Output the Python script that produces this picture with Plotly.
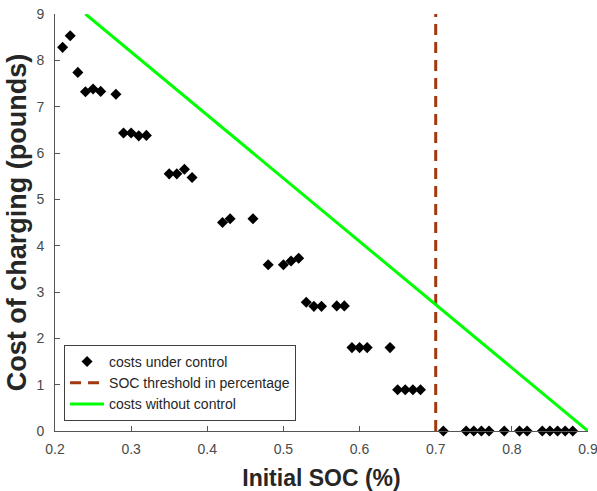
import plotly.graph_objects as go

soc_control = [0.21, 0.22, 0.23, 0.24, 0.25, 0.26, 0.28, 0.29, 0.30, 0.31, 0.32,
               0.35, 0.36, 0.37, 0.38, 0.42, 0.43, 0.46, 0.48, 0.50, 0.51, 0.52,
               0.53, 0.54, 0.55, 0.57, 0.58, 0.59, 0.60, 0.61, 0.64, 0.65, 0.66,
               0.67, 0.68, 0.71, 0.74, 0.75, 0.76, 0.77, 0.79, 0.81, 0.82, 0.84,
               0.85, 0.86, 0.87, 0.88]
cost_control = [8.28, 8.53, 7.74, 7.32, 7.38, 7.33, 7.27, 6.43, 6.43, 6.37, 6.38,
                5.55, 5.55, 5.65, 5.47, 4.50, 4.58, 4.58, 3.59, 3.59, 3.67, 3.73,
                2.78, 2.69, 2.69, 2.70, 2.70, 1.80, 1.80, 1.80, 1.80, 0.89, 0.89,
                0.89, 0.89, 0, 0, 0, 0, 0, 0, 0, 0, 0, 0, 0, 0, 0]

threshold_x = [0.7, 0.7]
threshold_y = [0, 9]

soc_nocontrol = [0.24, 0.9]
cost_nocontrol = [9, 0]

xticks = [0.2, 0.3, 0.4, 0.5, 0.6, 0.7, 0.8, 0.9]
yticks = [0, 1, 2, 3, 4, 5, 6, 7, 8, 9]

fig = go.Figure()
fig.add_trace(go.Scatter(x=soc_control, y=cost_control, mode="markers",
                         name="costs under control",
                         marker=dict(symbol="diamond", size=8.5, color="black"),
                         cliponaxis=False))
fig.add_trace(go.Scatter(x=threshold_x, y=threshold_y, mode="lines",
                         name="SOC threshold in percentage",
                         line=dict(color="#A2380E", width=3, dash="11px,7px")))
fig.add_trace(go.Scatter(x=soc_nocontrol, y=cost_nocontrol, mode="lines",
                         name="costs without control",
                         line=dict(color="#00FF00", width=3)))

font = "Liberation Sans, Arial, sans-serif"
fig.update_layout(
    width=597, height=491,
    margin=dict(l=55, r=9, t=14, b=60),
    plot_bgcolor="white", paper_bgcolor="white",
    font=dict(family=font, size=14, color="#4a4a4a"),
    showlegend=True,
    legend=dict(x=0.017, y=0.024, xanchor="left", yanchor="bottom",
                bordercolor="#404040", borderwidth=1, bgcolor="white",
                font=dict(size=14, color="#262626"),
                tracegroupgap=0, itemwidth=34),
    xaxis=dict(range=[0.2, 0.9], tickvals=xticks, ticktext=[f"{v:g}" for v in xticks],
               ticks="inside", ticklen=5, tickcolor="#555555",
               showline=True, linecolor="#555555", linewidth=1,
               showgrid=False, zeroline=False, automargin=False,
               ticklabelstandoff=5, ticklabeloverflow="allow",
               title=dict(text="<b>Initial SOC (%)</b>", font=dict(size=23, color="#262626"),
                          standoff=16)),
    yaxis=dict(range=[0, 9], tickvals=yticks,
               ticks="inside", ticklen=5, tickcolor="#555555",
               showline=True, linecolor="#555555", linewidth=1,
               showgrid=False, zeroline=False, automargin=False,
               ticklabelstandoff=7, ticklabeloverflow="allow",
               title=dict(text="<b>Cost of charging (pounds)</b>", font=dict(size=27, color="#262626"),
                          standoff=1)),
)
fig.write_html("out.html", config={"displayModeBar": False},
               post_script="document.body.style.margin='0px';")
